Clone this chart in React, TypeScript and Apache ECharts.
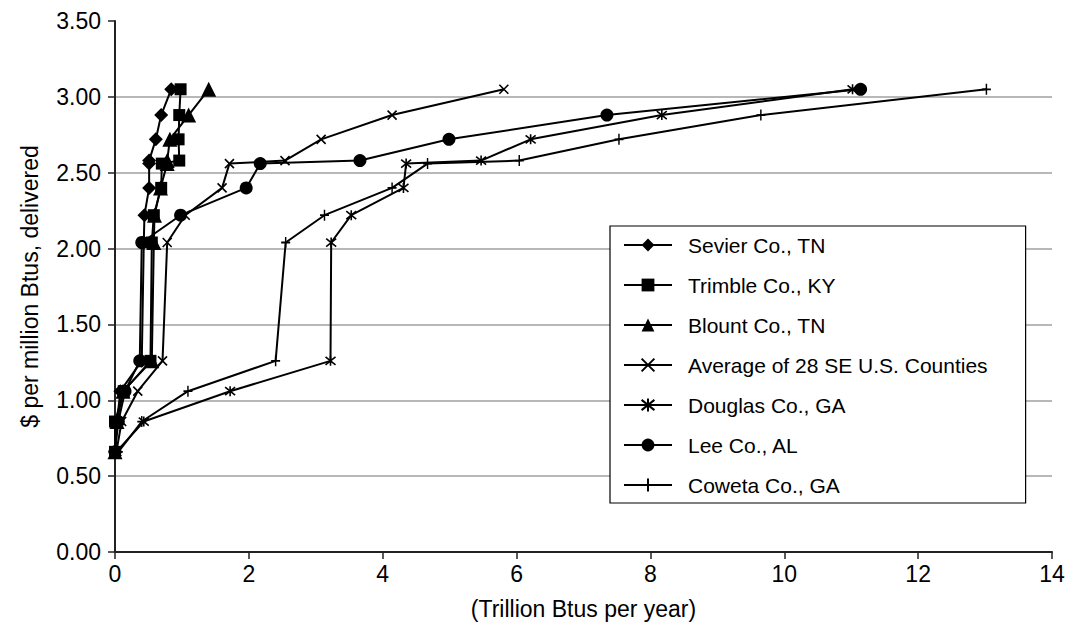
import React, { useEffect, useRef } from "react";
import * as echarts from "echarts";

// Delivered price levels ($ per million Btus) shared by every supply curve
const priceLevels = [0.66, 0.86, 1.06, 1.26, 2.04, 2.22, 2.4, 2.56, 2.58, 2.72, 2.88, 3.05];

// Cumulative quantity (trillion Btus per year) at each price level
const sevierQty = [0.0, 0.03, 0.08, 0.4, 0.43, 0.44, 0.51, 0.51, 0.51, 0.61, 0.69, 0.84];
const trimbleQty = [0.0, 0.0, 0.13, 0.53, 0.55, 0.58, 0.69, 0.7, 0.96, 0.95, 0.96, 0.98];
const blountQty = [0.0, 0.03, 0.12, 0.55, 0.58, 0.59, 0.68, 0.78, 0.78, 0.82, 1.1, 1.4];
const averageQty = [0.02, 0.1, 0.34, 0.71, 0.78, 1.05, 1.6, 1.71, 2.54, 3.08, 4.14, 5.81];
const douglasQty = [0.02, 0.43, 1.72, 3.22, 3.23, 3.53, 4.31, 4.35, 5.47, 6.21, 8.17, 11.02];
const leeQty = [0.0, 0.05, 0.15, 0.37, 0.4, 0.98, 1.96, 2.17, 3.66, 4.99, 7.35, 11.14];
const cowetaQty = [0.05, 0.4, 1.09, 2.4, 2.55, 3.13, 4.14, 4.67, 6.04, 7.53, 9.65, 13.02];

const seriesNames = [
  "Sevier Co., TN",
  "Trimble Co., KY",
  "Blount Co., TN",
  "Average of 28 SE U.S. Counties",
  "Douglas Co., GA",
  "Lee Co., AL",
  "Coweta Co., GA",
];

const xTicks = [0, 2, 4, 6, 8, 10, 12, 14];
const yTicks = [0, 0.5, 1, 1.5, 2, 2.5, 3, 3.5];

const X_PATH = "path://M0,0L10,10M10,0L0,10";
const STAR_PATH = "path://M0,1L10,9M10,1L0,9M5,0L5,10";
const PLUS_PATH = "path://M5,0L5,10M1,5L9,5";

function pairs(qty: number[]) {
  return qty.map((q, i) => [q, priceLevels[i]]);
}

export default function App() {
  const ref = useRef<HTMLDivElement>(null);

  useEffect(() => {
    if (!ref.current) return;
    const chart = echarts.init(ref.current, undefined, { renderer: "svg" });
    const font = "'Liberation Sans', Arial, Helvetica, sans-serif";
    const allQty = [sevierQty, trimbleQty, blountQty, averageQty, douglasQty, leeQty, cowetaQty];
    const symbols = ["diamond", "rect", "triangle", X_PATH, STAR_PATH, "circle", PLUS_PATH];
    const sizes: any[] = [14, 12, 15, 9, 10, 13, [9, 11]];
    const strokeOnly = [false, false, false, true, true, false, true];

    const series = allQty.map((q, i) => ({
      name: seriesNames[i],
      type: "line",
      data: pairs(q),
      symbol: symbols[i],
      symbolSize: sizes[i],
      showSymbol: true,
      showAllSymbol: true,
      lineStyle: { color: "#000", width: 2 },
      itemStyle: strokeOnly[i]
        ? { color: "#000", borderColor: "#000", borderWidth: 1.6 }
        : { color: "#000", borderWidth: 0 },
      emphasis: { disabled: true },
      z: 3,
    }));

    chart.setOption({
      animation: false,
      backgroundColor: "#fff",
      textStyle: { fontFamily: font, color: "#000" },
      grid: { left: 115, right: 20, top: 21, bottom: 78 },
      xAxis: {
        type: "value",
        min: xTicks[0],
        max: xTicks[xTicks.length - 1],
        interval: 2,
        name: "(Trillion Btus per year)",
        nameLocation: "middle",
        nameGap: 45,
        nameTextStyle: { fontSize: 23, color: "#000", fontFamily: font },
        axisLine: { show: true, onZero: false, lineStyle: { color: "#222", width: 2 } },
        axisTick: { show: true, inside: false, length: 7, lineStyle: { color: "#222", width: 1.5 } },
        axisLabel: { fontSize: 23, color: "#000", margin: 10, fontFamily: font },
        splitLine: { show: false },
      },
      yAxis: {
        type: "value",
        min: yTicks[0],
        max: yTicks[yTicks.length - 1],
        interval: 0.5,
        name: "$ per million Btus, delivered",
        nameLocation: "middle",
        nameGap: 74,
        nameTextStyle: { fontSize: 23, color: "#000", fontFamily: font },
        axisLine: { show: true, onZero: false, lineStyle: { color: "#222", width: 2 } },
        axisTick: { show: true, inside: false, length: 7, lineStyle: { color: "#222", width: 1.5 } },
        axisLabel: {
          fontSize: 23,
          color: "#000",
          margin: 14,
          fontFamily: font,
          formatter: (v: number) => v.toFixed(2),
        },
        splitLine: {
          show: true,
          showMinLine: false,
          showMaxLine: false,
          lineStyle: { color: "#a0a0a0", width: 1.5 },
        },
      },
      legend: {
        show: true,
        orient: "vertical",
        left: 610,
        top: 226,
        data: seriesNames,
        backgroundColor: "#fff",
        borderColor: "#000",
        borderWidth: 1.2,
        borderRadius: 0,
        padding: [7, 38, 6, 13],
        itemWidth: 48,
        itemHeight: 16,
        itemGap: 16,
        selectedMode: false,
        textStyle: {
          fontSize: 21,
          color: "#000",
          fontFamily: font,
          lineHeight: 24,
          padding: [0, 0, 0, 11],
        },
      },
      series,
    });

    return () => chart.dispose();
  }, []);

  return (
    <div
      ref={ref}
      style={{ position: "absolute", left: 0, top: 0, width: 1072, height: 630 }}
    />
  );
}
